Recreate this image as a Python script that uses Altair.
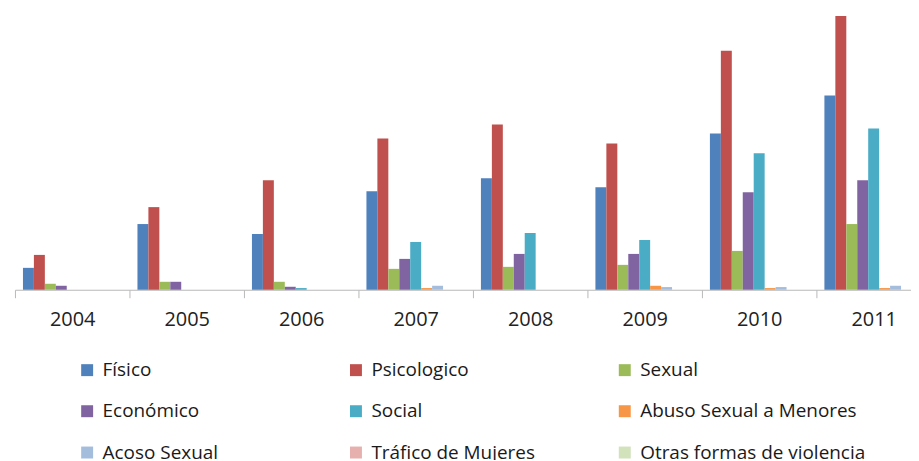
import altair as alt
import pandas as pd

years = ["2004", "2005", "2006", "2007", "2008", "2009", "2010", "2011"]
categories = ["Físico", "Psicologico", "Sexual", "Económico", "Social",
              "Abuso Sexual a Menores", "Acoso Sexual", "Tráfico de Mujeres",
              "Otras formas de violencia"]
colors = ["#4F81BD", "#C0504D", "#9BBB59", "#8064A2", "#4BACC6",
          "#F79646", "#A5BDDC", "#E6B0AE", "#D2E2BB"]

fisico = [22, 66, 56, 99, 112, 103, 157, 195]
psicologico = [35, 83, 110, 152, 166, 147, 240, 275]
sexual = [6, 8, 8, 21, 23, 25, 39, 66]
economico = [4, 8, 3, 31, 36, 36, 98, 110]
social = [0, 0, 1.7, 48, 57, 50, 137, 162]
abuso = [0, 0, 0, 1.7, 0, 4, 1.7, 1.7]
acoso = [0, 0, 0, 4, 0, 2.7, 2.7, 4]
trafico = [0, 0, 0, 0, 0, 0, 0, 0]
otras = [0, 0, 0, 0, 0, 0, 0, 0]

series = [fisico, psicologico, sexual, economico, social, abuso, acoso, trafico, otras]
rows = []
for cat, vals in zip(categories, series):
    for y, v in zip(years, vals):
        rows.append({"year": y, "cat": cat, "value": v})
df = pd.DataFrame(rows)

# Vega fills legend columns top-to-bottom; reorder so that it reads row by row
ncol = 3
legend_order = [categories[r * ncol + c] for c in range(ncol) for r in range(3)]
legend_colors = [colors[categories.index(c)] for c in legend_order]

FONT = "Open Sans"

chart = alt.Chart(df).mark_bar().encode(
    x=alt.X("year:N", sort=years, title=None,
            scale=alt.Scale(paddingInner=0, paddingOuter=0, range=[0, 920]),
            axis=alt.Axis(labelAngle=0, labelFontSize=20, labelColor="#222222",
                          labelFont=FONT, tickBand="extent", tickSize=8,
                          tickColor="#b8b8b8", domainColor="#b8b8b8",
                          labelPadding=12)),
    xOffset=alt.XOffset("cat:N", sort=categories,
                        scale=alt.Scale(paddingInner=0, paddingOuter=0.73)),
    y=alt.Y("value:Q", scale=alt.Scale(domain=[0, 280]), axis=None),
    color=alt.Color("cat:N",
                    scale=alt.Scale(domain=legend_order, range=legend_colors),
                    legend=alt.Legend(title=None, orient="none", legendX=63, legendY=351,
                                      columns=3, gridAlign="all", columnPadding=18,
                                      rowPadding=21.5, symbolType="square", symbolSize=144,
                                      symbolStrokeWidth=0, labelOffset=6,
                                      labelFont=FONT, labelFontSize=19, labelColor="#1a1a1a",
                                      labelLimit=400)),
).properties(
    width=900, height=280,
    autosize=alt.AutoSizeParams(type="none"),
    padding={"left": 7, "top": 2, "right": 0, "bottom": 170},
).configure_view(stroke=None)

chart.save("out.html", embed_options={"renderer": "svg", "actions": False})
